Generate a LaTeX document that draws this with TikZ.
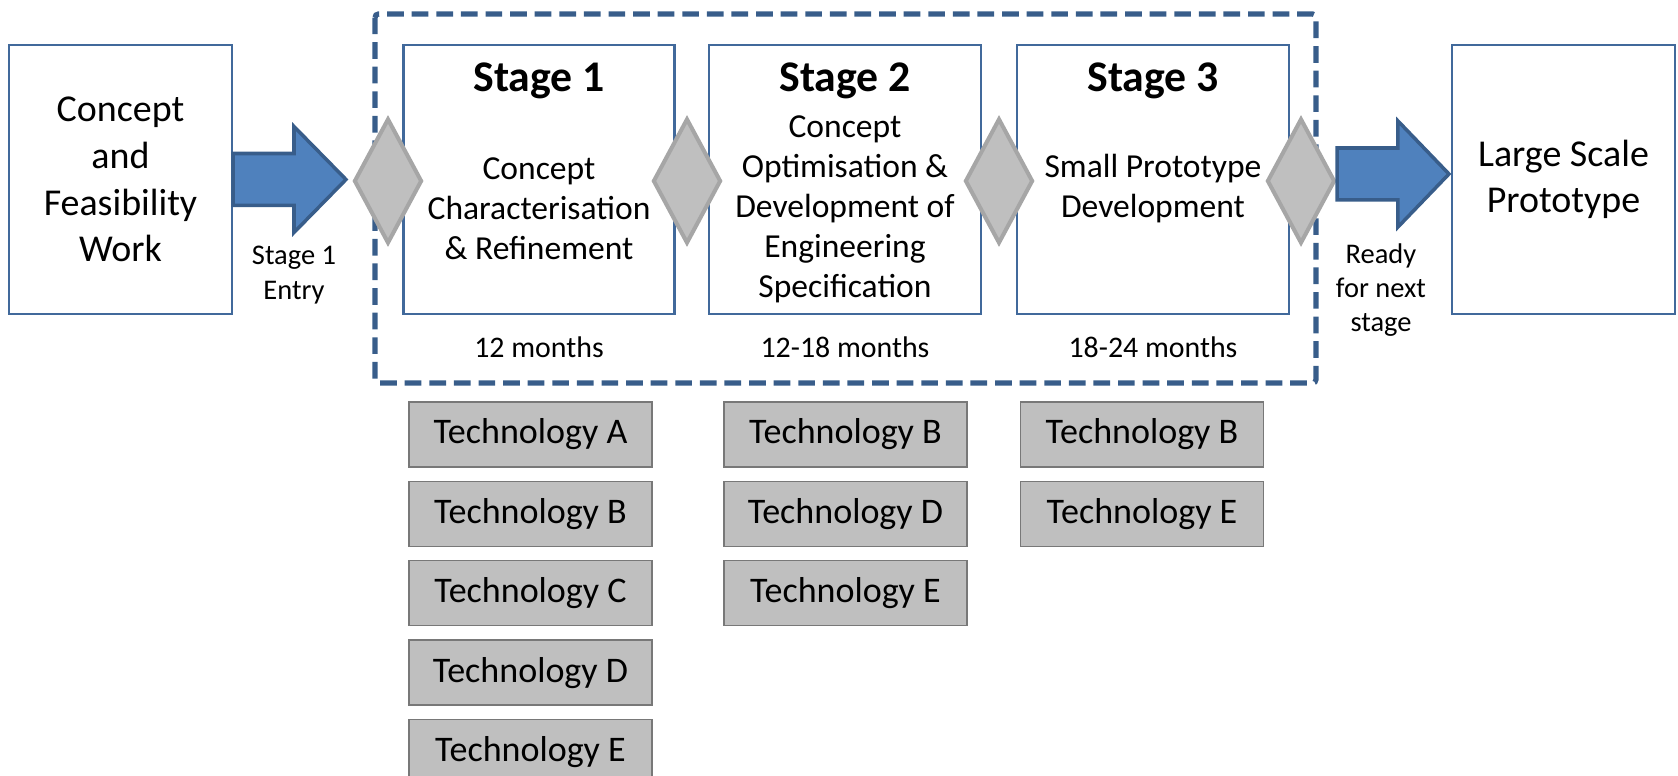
\documentclass[tikz,border=0pt]{standalone}
\usepackage{fontspec}
\setmainfont{Carlito}
\usepackage{tikz}
\usetikzlibrary{positioning}
\usetikzlibrary{shapes.geometric}
\usetikzlibrary{calc}
\definecolor{boxblue}{RGB}{65,105,155}
\definecolor{arrowblue}{RGB}{79,129,189}
\definecolor{dashblue}{RGB}{56,93,138}
\definecolor{gatefill}{RGB}{191,191,191}
\definecolor{gateline}{RGB}{166,166,166}
\definecolor{techline}{RGB}{120,120,120}
\tikzset{phase/.style = {draw=boxblue, line width=1.2pt, fill=white, minimum height=5.38cm, inner sep=0}}
\tikzset{endbox/.style = {phase, minimum width=4.46cm, align=center, font=\fontsize{21.6}{26.6}\selectfont}}
\tikzset{gate/.style = {diamond, draw=gateline, line width=2.3pt, fill=gatefill, minimum width=1.36cm, minimum height=2.5cm, inner sep=0}}
\tikzset{tech/.style = {draw=techline, line width=0.8pt, fill=gatefill, minimum width=4.86cm, minimum height=1.3cm, font=\fontsize{20.5}{24}\selectfont}}
\tikzset{blockarrow/.style = {draw=dashblue, line width=2pt, fill=arrowblue, line join=miter}}
\tikzset{stagegroup/.style = {draw=dashblue, line width=3pt, dash pattern=on 9.5pt off 4.5pt, rounded corners=2pt}}
\tikzset{title/.style = {anchor=base, font=\bfseries\fontsize{24.9}{30}\selectfont}}
\tikzset{body/.style = {align=center, font=\fontsize{19.1}{22.8}\selectfont}}
\tikzset{months/.style = {anchor=base, font=\fontsize{17}{20}\selectfont}}
\tikzset{small/.style = {align=center, font=\fontsize{16.2}{19.5}\selectfont}}

\begin{document}
\begin{tikzpicture}[x=0.02cm, y=-0.02cm]
      \useasboundingbox (0, 0) rectangle (1678, 776);

      \draw [stagegroup] (375, 14) rectangle (1316, 383);

      \node [endbox] (concept) at (120.5, 179.5) {Concept\\and\\Feasibility\\Work};
      \node [endbox] (large) at (1563.5, 179.5) {Large Scale\\Prototype};

      \node [phase, minimum width=5.42cm] (s1) at (539, 179.5) {};
      \node [phase, minimum width=5.44cm] (s2) at (845, 179.5) {};
      \node [phase, minimum width=5.44cm] (s3) at (1153, 179.5) {};

      \node [title] (t1) at (539, 92) {Stage 1};
      \node [title] (t2) at (845, 92) {Stage 2};
      \node [title] (t3) at (1153, 92) {Stage 3};

      \node [body] (b1) at (539, 209) {Concept\\Characterisation\\\& Refinement};
      \node [body] (b2) at (845, 209) {Concept\\Optimisation \&\\Development of\\Engineering\\Specification};
      \node [body] (b3) at (1153, 189) {Small Prototype\\Development};

      \node [months] (m1) at (539, 358) {12 months};
      \node [months] (m2) at (845, 358) {12-18 months};
      \node [months] (m3) at (1153, 358) {18-24 months};

      \node [gate] (g1) at (388, 181) {};
      \node [gate] (g2) at (687, 181) {};
      \node [gate] (g3) at (999, 181) {};
      \node [gate] (g4) at (1301, 181) {};

      \draw [blockarrow] let \p1 = (concept.east), \p2 = ([xshift=-0.12cm]g1.west) in
        (\x1, \y1+0.52cm) -- (\x2-1.04cm, \y1+0.52cm) -- (\x2-1.04cm, \y1+1.06cm) -- (\x2, \y1)
        -- (\x2-1.04cm, \y1-1.06cm) -- (\x2-1.04cm, \y1-0.52cm) -- (\x1, \y1-0.52cm) -- cycle;
      \draw [blockarrow] let \p1 = ([yshift=0.14cm]g4.east), \p2 = ([xshift=-0.04cm]large.west) in
        (\x1, \y1+0.52cm) -- (\x2-1.02cm, \y1+0.52cm) -- (\x2-1.02cm, \y1+1.06cm) -- (\x2, \y1)
        -- (\x2-1.02cm, \y1-1.06cm) -- (\x2-1.02cm, \y1-0.52cm) -- (\x1, \y1-0.52cm) -- cycle;

      \node [small] (entry) at (294, 275) {Stage 1\\Entry};
      \node [small] (ready) at (1381, 290) {Ready\\for next\\stage};

      \node [tech] (t1a) at (530.5, 434.5) {Technology A};
      \node [tech, below=0.26cm of t1a] (t1b) {Technology B};
      \node [tech, below=0.26cm of t1b] (t1c) {Technology C};
      \node [tech, below=0.26cm of t1c] (t1d) {Technology D};
      \node [tech, below=0.26cm of t1d] (t1e) {Technology E};

      \node [tech] (t2b) at (845.5, 434.5) {Technology B};
      \node [tech, below=0.26cm of t2b] (t2d) {Technology D};
      \node [tech, below=0.26cm of t2d] (t2e) {Technology E};

      \node [tech] (t3b) at (1142, 434.5) {Technology B};
      \node [tech, below=0.26cm of t3b] (t3e) {Technology E};
    \end{tikzpicture}
\end{document}
